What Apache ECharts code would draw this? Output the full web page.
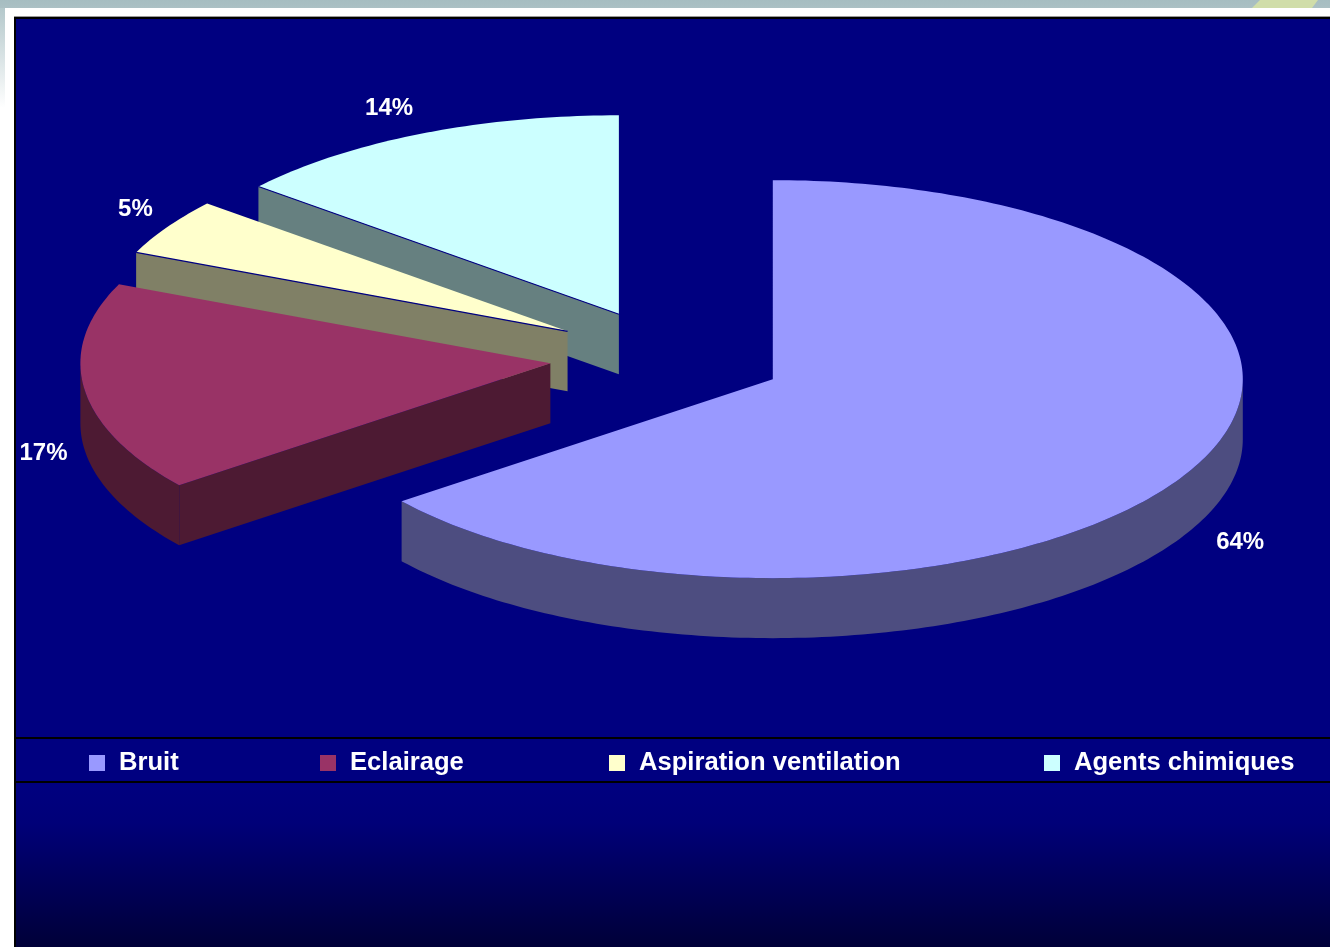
<!DOCTYPE html>
<html>
<head>
<meta charset="utf-8">
<style>html,body{margin:0;padding:0;background:#fff}#c{width:1330px;height:947px}</style>
<script src="https://cdn.jsdelivr.net/npm/echarts@6/dist/echarts.min.js"></script>
</head>
<body>
<div id="c"></div>
<script>
var categories = ['Bruit', 'Eclairage', 'Aspiration ventilation', 'Agents chimiques'];
var values = [64.49, 17.0, 4.6, 13.91];
var colors = ['#9999FF', '#993366', '#FFFFCC', '#CCFFFF'];
var wallColors = ['#4D4D80', '#4D1A33', '#808066', '#668080'];

var explode = [0.253, 0.248, 0.246, 0.237];
var labelNudge = [[3, 67], [6, 63], [8, -7], [-11, -8]];
var edgeLine = [false, false, true, true];
var legendLeft = [89, 320, 609, 1044];
var PIE = { cx: 666, cy: 357, rx: 470, ry: 199, depth: 60, step: 1 };
var FONT = '"Liberation Sans", Arial, sans-serif';

var total = values.reduce(function (a, b) { return a + b; }, 0);
function startOf(i) {
  var s = 0;
  for (var k = 0; k < i; k++) s += values[k];
  return s / total * 360;
}
function rad(d) { return d * Math.PI / 180; }
function pt(o, deg, dy, f) {
  f = f === undefined ? 1 : f;
  return [o[0] + f * PIE.rx * Math.sin(rad(deg)), o[1] - f * PIE.ry * Math.cos(rad(deg)) + (dy || 0)];
}
function arc(o, a, b, dy) {
  var out = [];
  for (var d = a; d < b; d += PIE.step) out.push(pt(o, d, dy));
  out.push(pt(o, b, dy));
  return out;
}
function renderSlice(i, api) {
  var v = api.value(0);
  var a = startOf(i), b = a + v / total * 360, m = (a + b) / 2;
  var apex = pt([PIE.cx, PIE.cy], m, 0, explode[i]);
  var kids = [];
  var wall = { fill: wallColors[i] };
  if (a > 0) {
    var p = pt(apex, a);
    kids.push({ type: 'polygon', shape: { points: [apex, p, [p[0], p[1] + PIE.depth], [apex[0], apex[1] + PIE.depth]] }, style: wall, silent: true });
  }
  var w0 = Math.max(a, 90), w1 = Math.min(b, 270);
  if (w1 > w0) {
    kids.push({ type: 'polygon', shape: { points: arc(apex, w0, w1, 0).concat(arc(apex, w0, w1, PIE.depth).reverse()) }, style: wall, silent: true });
  }
  kids.push({ type: 'polygon', shape: { points: [apex].concat(arc(apex, a, b, 0)) }, style: { fill: colors[i] }, silent: true });
  if (edgeLine[i]) {
    var e = pt(apex, a);
    kids.push({ type: 'line', shape: { x1: apex[0], y1: apex[1], x2: e[0], y2: e[1] }, style: { stroke: '#000080', lineWidth: 1.2 }, silent: true });
  }
  var lp = pt(apex, m, 0, 1.1);
  kids.push({
    type: 'text', silent: true,
    style: {
      text: Math.round(v) + '%', x: lp[0] + labelNudge[i][0], y: lp[1] + labelNudge[i][1],
      fill: '#fff', font: 'bold 24px ' + FONT, align: 'center', verticalAlign: 'middle'
    }
  });
  return { type: 'group', children: kids };
}

// painter's order: back slices first
var drawOrder = [3, 2, 1, 0];
var series = drawOrder.map(function (i, n) {
  return {
    type: 'custom', name: categories[i], coordinateSystem: 'none', z: 10 + n,
    itemStyle: { color: colors[i] }, animation: false, silent: true,
    data: [[values[i]]],
    renderItem: function (params, api) { return renderSlice(i, api); }
  };
});
var legends = categories.map(function (c, i) {
  return {
    data: [c], left: legendLeft[i], top: 750, padding: 0, selectedMode: false,
    itemWidth: 34, itemHeight: 16, icon: 'path://M0 0H1V1H0Z',
    textStyle: { color: '#fff', fontWeight: 'bold', fontSize: 25.6, fontFamily: FONT }
  };
});

function rect(x, y, w, h, fill, z) {
  return { type: 'rect', silent: true, z: z || 1, shape: { x: x, y: y, width: w, height: h }, style: { fill: fill } };
}
var graphics = [
  rect(0, 0, 1330, 8, { type: 'linear', x: 0, y: 0, x2: 0, y2: 1, colorStops: [{ offset: 0, color: '#A6BDC1' }, { offset: 1, color: '#ABC0C4' }] }),
  { type: 'polygon', silent: true, z: 2, shape: { points: [[1260, 0], [1318, 0], [1312, 8], [1252, 8]] }, style: { fill: '#D0DDA9' } },
  rect(0, 8, 5, 100, { type: 'linear', x: 0, y: 0, x2: 0, y2: 1, colorStops: [{ offset: 0, color: '#B4C8CB' }, { offset: 1, color: '#FFFFFF' }] }),
  rect(14, 16, 1316, 1, '#999999'),
  rect(14, 17, 1316, 930, '#000000'),
  rect(16, 19, 1314, 718, '#000080', 2),
  rect(16, 739, 1314, 42, '#000080', 2),
  rect(16, 783, 1314, 164, { type: 'linear', x: 0, y: 0, x2: 0, y2: 1, colorStops: [{ offset: 0, color: '#000080' }, { offset: 0.25, color: '#000078' }, { offset: 1, color: '#000038' }] }, 2)
];

var chart = echarts.init(document.getElementById('c'), null, { width: 1330, height: 947, renderer: 'canvas' });
chart.setOption({
  animation: false,
  backgroundColor: '#FFFFFF',
  graphic: { elements: graphics },
  legend: legends,
  series: series
});
</script>
</body>
</html>
